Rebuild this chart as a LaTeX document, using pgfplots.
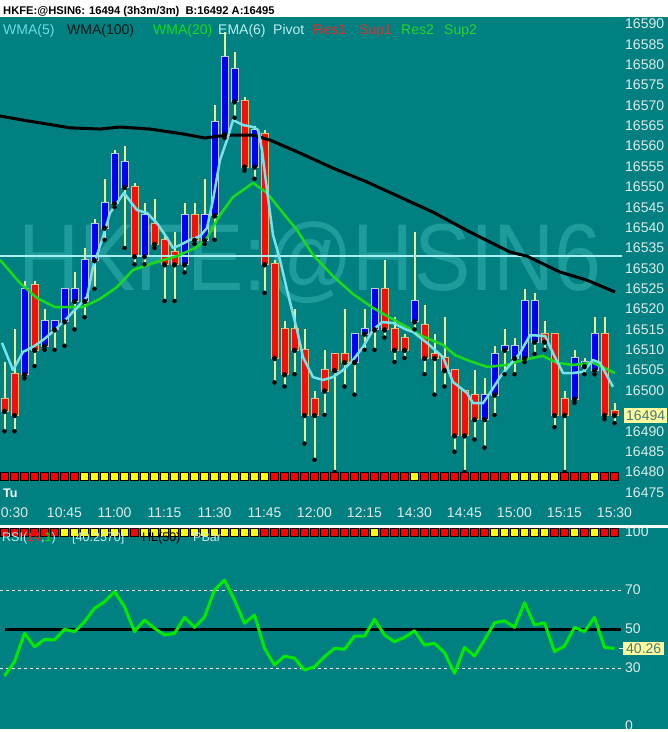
\documentclass[border=0pt]{standalone}
\usepackage{pgfplots}
\pgfplotsset{compat=1.18}
\usepackage{pgfplotstable}
\usepackage{fontspec}
\setmainfont{Liberation Sans}

\definecolor{bg}{RGB}{0,128,128}
\definecolor{wmark}{RGB}{30,155,155}
\definecolor{upfill}{RGB}{0,0,240}
\definecolor{upedge}{RGB}{190,200,225}
\definecolor{dnfill}{RGB}{245,15,10}
\definecolor{dnedge}{RGB}{245,185,110}
\definecolor{wick}{RGB}{235,235,150}
\definecolor{pivot}{RGB}{170,240,240}
\definecolor{ema}{RGB}{120,225,235}
\definecolor{wmagreen}{RGB}{25,220,25}
\definecolor{rsigreen}{RGB}{0,235,0}
\definecolor{ticktext}{RGB}{225,235,235}
\definecolor{stripred}{RGB}{255,0,0}
\definecolor{stripyel}{RGB}{255,255,0}
\definecolor{boxfill}{RGB}{255,255,160}
\definecolor{boxtext}{RGB}{70,120,120}
\definecolor{lightcyan}{RGB}{110,220,225}
\definecolor{palecyan}{RGB}{190,240,240}
\definecolor{legred}{RGB}{230,45,45}
\definecolor{legred2}{RGB}{200,60,60}
\definecolor{leggreen}{RGB}{45,210,45}
\definecolor{darkline}{RGB}{0,25,25}

% 3 minute bars, index 0..61 ; blue = up, red = down
\pgfplotstableread{
i o h l c
2 16504 16527 16503 16525
4 16511 16520 16510 16517
5 16515 16517 16510 16517
6 16517 16525 16511 16525
7 16522 16529 16515 16525
8 16522 16535 16518 16532
9 16532 16542 16525 16541
10 16540 16552 16537 16546
11 16546 16559 16545 16558
12 16550 16560 16535 16556
14 16533 16546 16531 16543
18 16531 16546 16529 16543
20 16537 16552 16536 16543
21 16543 16570 16537 16566
22 16563 16588 16562 16582
23 16571 16583 16567 16579
25 16555 16565 16552 16564
35 16507 16514 16499 16514
36 16514 16520 16510 16515
37 16515 16525 16510 16525
41 16517 16539 16515 16522
48 16493 16503 16486 16499
49 16499 16511 16494 16509
50 16510 16515 16504 16511
51 16508 16513 16504 16511
52 16508 16525 16507 16522
53 16512 16524 16509 16522
57 16498 16510 16497 16508
58 16506 16508 16504 16507
59 16505 16518 16504 16514
}\upbars

\pgfplotstableread{
i o h l c
0 16498 16507 16490 16495
1 16504 16515 16490 16494
3 16526 16527 16506 16510
13 16550 16551 16531 16533
15 16541 16547 16535 16536
16 16537 16538 16522 16531
17 16534 16539 16522 16531
19 16543 16546 16536 16537
24 16571 16572 16554 16555
26 16563 16564 16524 16531
27 16531 16532 16502 16508
28 16515 16517 16501 16504
29 16515 16520 16504 16510
30 16510 16515 16487 16494
31 16498 16500 16483 16494
32 16505 16510 16494 16500
33 16509 16509 16480 16505
34 16509 16520 16501 16507
38 16525 16532 16513 16515
39 16515 16518 16507 16510
40 16513 16514 16508 16510
42 16516 16521 16504 16508
43 16509 16514 16499 16508
44 16508 16518 16501 16505
45 16505 16505 16485 16489
46 16500 16500 16480 16489
47 16499 16505 16488 16493
54 16514 16517 16510 16512
55 16514 16514 16491 16494
56 16498 16500 16480 16494
60 16514 16518 16493 16494
61 16495 16497 16492 16494
}\downbars

\pgfplotstableread{
i rsi
0 26.0
1 33.4
2 48.0
3 41.1
4 44.9
5 44.6
6 50.1
7 48.9
8 54.0
9 60.9
10 64.3
11 69.5
12 61.8
13 48.9
14 54.9
15 50.6
16 47.2
17 48.0
18 56.3
19 51.1
20 56.3
21 70.4
22 75.5
23 65.2
24 53.2
25 57.5
26 40.3
27 31.7
28 36.3
29 35.2
30 29.1
31 30.8
32 36.0
33 40.3
34 39.8
35 46.6
36 46.6
37 55.3
38 47.2
39 43.7
40 46.0
41 49.4
42 42.0
43 42.9
44 38.1
45 27.4
46 40.8
47 36.3
48 44.6
49 53.5
50 54.5
51 51.1
52 63.8
53 52.3
54 53.5
55 38.6
56 41.5
57 51.1
58 48.9
59 56.3
60 40.8
61 40.26
}\rsidata

\pgfplotsset{
  panel/.style={
    scale only axis, width=622pt, xmin=-0.45, xmax=61.75,
    axis line style={draw=none}, major tick length=0pt,
    yticklabel pos=right, scaled y ticks=false,
    ticklabel style={font=\fontsize{14}{16}\selectfont, text=ticktext},
    yticklabel style={anchor=west, inner sep=0pt, xshift=3pt,
      /pgf/number format/fixed, /pgf/number format/precision=0,
      /pgf/number format/1000 sep={}},
    /pgf/number format/assume math mode=true,
  },
  candle/.style n args={2}{only marks, mark=none, forget plot,
    error bars/.cd, y dir=plus, y explicit, error mark=none,
    error bar style={line width=#1, draw=#2, solid}},
}

\begin{document}
\begin{tikzpicture}
\path[use as bounding box] (0pt,0pt) rectangle (668pt,-732pt);
\fill[white] (0pt,0pt) rectangle (668pt,-732pt);
\fill[bg] (0pt,-17pt) rectangle (668pt,-525pt);
\fill[bg] (0pt,-528pt) rectangle (668pt,-729pt);

\node[anchor=base west, inner sep=0pt, font=\bfseries\fontsize{11.2}{13}\selectfont]
  at (3pt,-14pt) {HKFE:@HSIN6: 16494 (3h3m/3m)\hspace{0.55em}B:16492 A:16495};

\begin{scope}[every node/.style={anchor=base west, inner sep=0pt, font=\fontsize{14}{16}\selectfont}]
\node[text=lightcyan] at (3pt,-34pt) {WMA(5)};
\node[text=darkline] at (67pt,-34pt) {WMA(100)};
\node[text=wmagreen] at (153pt,-34pt) {WMA(20)};
\node[text=palecyan] at (218pt,-34pt) {EMA(6)};
\node[text=palecyan] at (273pt,-34pt) {Pivot};
\node[text=legred] at (313pt,-34pt) {Res1};
\node[text=legred2] at (359pt,-34pt) {Sup1};
\node[text=leggreen] at (401pt,-34pt) {Res2};
\node[text=leggreen] at (444pt,-34pt) {Sup2};
\end{scope}

\node[anchor=base west, inner sep=0pt, text=wmark, xscale=0.89,
  font=\fontsize{95}{95}\selectfont] at (18pt,-290pt) {HKFE:@HSIN6};

\node[anchor=base west, inner sep=0pt, text=white,
  font=\bfseries\fontsize{12.5}{14}\selectfont] at (3pt,-497pt) {Tu};

% price panel
\begin{axis}[panel, at={(0pt,-497pt)}, anchor=south west, height=480pt,
  ymin=16473.86, ymax=16591.71,
  ytick={16475,16480,16485,16490,16500,16505,16510,16515,16520,16525,16530,16535,16540,16545,16550,16555,16560,16565,16570,16575,16580,16585,16590},
  xtick={1,6,...,61},
  xticklabels={0:30,10:45,11:00,11:15,11:30,11:45,12:00,12:15,14:30,14:45,15:00,15:15,15:30},
  xticklabel style={anchor=base, yshift=-20pt},
]
% wicks
\addplot[candle={2pt}{wick}] table[x=i, y=l, y error expr=\thisrow{h}-\thisrow{l}] {\upbars};
\addplot[candle={2pt}{wick}] table[x=i, y=l, y error expr=\thisrow{h}-\thisrow{l}] {\downbars};
% bodies
\addplot[candle={8pt}{upedge}] table[x=i, y expr=\thisrow{o}-0.25, y error expr=\thisrow{c}-\thisrow{o}+0.5] {\upbars};
\addplot[candle={6pt}{upfill}] table[x=i, y=o, y error expr=\thisrow{c}-\thisrow{o}] {\upbars};
\addplot[candle={8pt}{dnedge}] table[x=i, y expr=\thisrow{c}-0.25, y error expr=\thisrow{o}-\thisrow{c}+0.5] {\downbars};
\addplot[candle={6pt}{dnfill}] table[x=i, y=c, y error expr=\thisrow{o}-\thisrow{c}] {\downbars};

% pivot
\addplot[pivot, line width=2.5pt] coordinates {(-0.45,16533) (61.75,16533)};
% WMA(100)
\addplot[black, line width=3pt, line join=round] coordinates {
(-0.45,16567.4) (1.85,16566.4) (6.55,16564.5) (9.55,16564.2) (11.55,16564.7)
(14.55,16564.2) (17.85,16563.0) (20.05,16562.0) (21.55,16562.5) (22.85,16562.7)
(24.85,16562.7) (26.55,16561.5) (29.55,16558.3) (32.85,16554.6) (36.25,16551.2)
(39.55,16547.5) (42.85,16543.8) (46.25,16539.3) (50.55,16534.0) (52.25,16533.0)
(55.55,16529.1) (58.25,16527.1) (61.05,16524.2)};
% WMA(20)
\addplot[wmagreen, line width=2.5pt, line join=round] coordinates {
(-0.45,16532.1) (1.55,16526.4) (3.25,16522.7) (5.05,16520.5) (7.85,16520.5)
(9.55,16522.5) (11.25,16525.4) (12.85,16529.6) (15.25,16531.6) (17.25,16533.0)
(19.25,16535.2) (20.25,16537.5) (21.55,16543.1) (22.85,16547.5) (23.85,16549.2)
(24.85,16551.0) (26.25,16548.5) (27.85,16543.6) (29.25,16539.4) (30.85,16533.3)
(32.85,16528.1) (34.85,16523.7) (36.85,16520.3) (38.25,16518.3) (40.25,16515.6)
(41.55,16513.6) (43.85,16511.2) (45.05,16508.7) (46.25,16507.5) (48.25,16505.8)
(50.25,16506.3) (51.85,16507.5) (53.85,16508.5) (55.25,16506.8) (56.85,16506.3)
(58.85,16506.8) (61.05,16504.3)};
% EMA(6)
\addplot[ema, line width=2.5pt, line join=round] coordinates {
(-0.25,16511.7) (0.85,16505.0) (1.85,16509.5) (2.85,16510.7) (3.85,16512.4)
(5.05,16514.9) (6.25,16517.8) (7.25,16520.3) (8.25,16523.0) (8.85,16530.3)
(9.85,16537.7) (10.55,16543.6) (11.95,16548.5) (13.25,16544.3) (14.25,16543.6)
(15.25,16541.1) (16.25,16537.5) (16.85,16535.0) (17.55,16535.7) (18.55,16537.0)
(19.55,16537.9) (20.25,16539.9) (20.85,16546.8) (21.55,16556.6) (22.25,16561.5)
(22.85,16566.4) (23.85,16565.2) (24.85,16564.7) (25.35,16564.0) (25.75,16559.1)
(26.25,16549.2) (26.85,16538.2) (27.55,16532.1) (28.25,16524.7) (29.25,16514.9)
(29.85,16508.2) (30.85,16503.3) (31.85,16502.6) (32.85,16503.3) (33.85,16505.0)
(34.85,16507.5) (35.85,16510.7) (36.85,16514.9) (37.75,16516.8) (38.85,16516.6)
(40.25,16514.9) (40.85,16514.4) (42.25,16511.7) (43.85,16508.2) (44.85,16502.1)
(46.25,16499.4) (46.85,16496.9) (47.85,16496.9) (48.55,16499.4) (49.55,16503.3)
(50.55,16506.3) (51.55,16509.2) (52.55,16513.6) (54.05,16513.4) (54.85,16509.2)
(55.85,16504.3) (56.85,16504.3) (57.85,16504.6) (58.85,16507.5) (59.55,16506.8)
(60.85,16500.9)};
% paint bar strip
\addplot[only marks, mark=square*, mark size=4.1pt, mark options={draw=none, fill=stripred}] coordinates {
(0,16479) (1,16479) (2,16479) (3,16479) (4,16479) (5,16479) (6,16479) (7,16479)
(27,16479) (28,16479) (29,16479) (30,16479) (31,16479) (32,16479) (33,16479)
(34,16479) (35,16479) (36,16479) (37,16479) (38,16479) (39,16479) (40,16479)
(42,16479) (43,16479) (44,16479) (45,16479) (46,16479) (47,16479) (48,16479)
(49,16479) (50,16479) (56,16479) (57,16479) (58,16479) (60,16479) (61,16479)};
\addplot[only marks, mark=square*, mark size=4.1pt, mark options={draw=none, fill=stripyel}] coordinates {
(8,16479) (9,16479) (10,16479) (11,16479) (12,16479) (13,16479) (14,16479)
(15,16479) (16,16479) (17,16479) (18,16479) (19,16479) (20,16479) (21,16479)
(22,16479) (23,16479) (24,16479) (25,16479) (26,16479) (41,16479)
(51,16479) (52,16479) (53,16479) (54,16479) (55,16479) (59,16479)};
\end{axis}

% RSI panel
\begin{axis}[panel, at={(0pt,-729pt)}, anchor=south west, height=202pt,
  ymin=-1.29, ymax=102.84, ytick={0,30,50,70,100}, xtick=\empty,
  yticklabel style={yshift=1pt}]
\addplot[ticktext, line width=1pt, dash pattern=on 3pt off 3pt] coordinates {(-0.45,70) (61.7,70)};
\addplot[ticktext, line width=1pt, dash pattern=on 3pt off 3pt] coordinates {(-0.45,30) (61.7,30)};
\addplot[black, line width=2.5pt] coordinates {(0.05,50) (61.65,50)};
\addplot[rsigreen, line width=3pt, line join=round] table[x=i, y=rsi] {\rsidata};
\addplot[only marks, mark=square*, mark size=4.1pt, mark options={draw=none, fill=stripred}] coordinates {
(0,100) (1,100) (2,100) (3,100) (4,100) (5,100) (13,100)
(26,100) (27,100) (28,100) (29,100) (30,100) (31,100) (32,100) (33,100) (34,100)
(35,100) (36,100) (38,100) (39,100) (40,100) (41,100) (42,100) (43,100) (44,100)
(45,100) (46,100) (47,100) (48,100) (55,100) (56,100) (58,100) (60,100) (61,100)};
\addplot[only marks, mark=square*, mark size=4.1pt, mark options={draw=none, fill=stripyel}] coordinates {
(6,100) (7,100) (8,100) (9,100) (10,100) (11,100) (12,100)
(14,100) (15,100) (16,100) (17,100) (18,100) (19,100) (20,100) (21,100) (22,100)
(23,100) (24,100) (25,100) (37,100) (49,100) (50,100) (51,100) (52,100) (53,100)
(54,100) (57,100) (59,100)};
\end{axis}

\node[anchor=base west, inner sep=0pt, font=\fontsize{12.5}{14}\selectfont] at (2pt,-541pt)
  {\textcolor{palecyan}{RSI(}\textcolor{legred}{14}\textcolor{palecyan}{,}\textcolor{rsigreen}{1}\textcolor{palecyan}{)}};
\node[anchor=base west, inner sep=0pt, font=\fontsize{12.5}{14}\selectfont, text=palecyan] at (72pt,-541pt) {[40.2570]};
\node[anchor=base west, inner sep=0pt, font=\fontsize{12.5}{14}\selectfont, text=black] at (142pt,-541pt) {HL(50)};
\node[anchor=base west, inner sep=0pt, font=\fontsize{12.5}{14}\selectfont, text=palecyan] at (193pt,-541pt) {PBar};

\node[anchor=west, fill=boxfill, text=boxtext, inner xsep=2pt, inner ysep=2.5pt,
  font=\fontsize{14}{16}\selectfont] at (624pt,-415.5pt) {16494};
\draw[ticktext, line width=1pt] (619pt,-648.5pt) -- (623pt,-648.5pt);
\node[anchor=west, fill=boxfill, text=boxtext, inner xsep=3pt, inner ysep=2pt,
  font=\fontsize{14}{16}\selectfont] at (623pt,-648.5pt) {40.26};
\fill[white] (0pt,-729pt) rectangle (620pt,-732pt);
\end{tikzpicture}
\end{document}
